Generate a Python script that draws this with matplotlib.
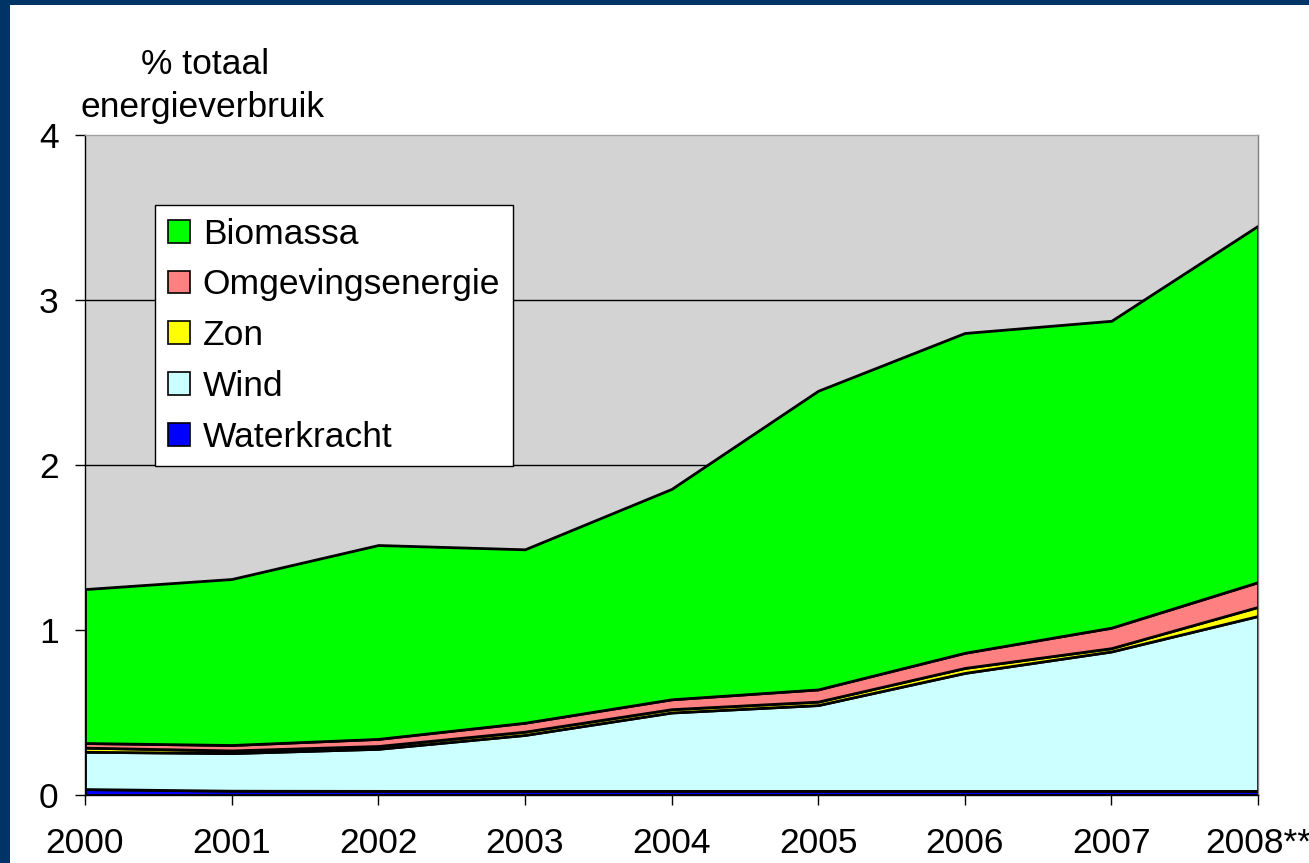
import matplotlib
matplotlib.use("Agg")
import matplotlib.pyplot as plt
from matplotlib.patches import Rectangle, Patch

years = ["2000", "2001", "2002", "2003", "2004", "2005", "2006", "2007", "2008**"]
waterkracht = [0.036, 0.026, 0.025, 0.025, 0.025, 0.025, 0.025, 0.025, 0.025]
wind = [0.226, 0.228, 0.255, 0.339, 0.475, 0.520, 0.715, 0.845, 1.060]
zon = [0.025, 0.016, 0.017, 0.020, 0.020, 0.021, 0.030, 0.020, 0.055]
omgevingsenergie = [0.028, 0.033, 0.043, 0.054, 0.060, 0.074, 0.092, 0.124, 0.150]
biomassa = [0.933, 1.006, 1.175, 1.051, 1.275, 1.810, 1.938, 1.860, 2.160]

labels = ["Waterkracht", "Wind", "Zon", "Omgevingsenergie", "Biomassa"]
colors = ["#0000FF", "#CCFFFF", "#FFFF00", "#FF8080", "#00FF00"]

plt.rcParams['font.family'] = ['Liberation Sans', 'DejaVu Sans']
FS = 25.5
W, H = 1309, 863
fig = plt.figure(figsize=(W / 100, H / 100), dpi=100)
fig.patch.set_facecolor("white")

# navy frame (left & top)
fig.patches.append(Rectangle((0, 0), 10 / W, 1, transform=fig.transFigure,
                             facecolor="#003366", edgecolor="none", zorder=0))
fig.patches.append(Rectangle((0, 1 - 5 / H), 1, 5 / H, transform=fig.transFigure,
                             facecolor="#003366", edgecolor="none", zorder=0))

x0, x1 = 85, 1258
y0, y1 = 795, 135
ax = fig.add_axes([x0 / W, (H - y0) / H, (x1 - x0) / W, (y0 - y1) / H])
ax.set_facecolor("#D3D3D3")

x = list(range(len(years)))
ax.stackplot(x, waterkracht, wind, zon, omgevingsenergie, biomassa,
             colors=colors, edgecolor="black", linewidth=2, zorder=2)

ax.set_xlim(0, len(years) - 1)
ax.set_ylim(0, 4)
ax.set_yticks([0, 1, 2, 3, 4])
ax.set_xticks(x)
ax.set_xticklabels(years)
for yv in [1, 2, 3]:
    ax.axhline(yv, color="black", linewidth=1, zorder=1)

ax.tick_params(axis="both", labelsize=FS, direction="out", length=7,
               width=1, color="black")
ax.tick_params(axis="x", pad=16)
ax.tick_params(axis="y", pad=12)

ax.spines["left"].set_color("black")
ax.spines["bottom"].set_color("black")
ax.spines["top"].set_color("#A0A0A0")
ax.spines["right"].set_color("#808080")
for s in ax.spines.values():
    s.set_linewidth(1)
    s.set_zorder(3)

fig.text(205 / W, (H - 64) / H, "% totaal", ha="center", va="center", fontsize=FS)
fig.text(203 / W, (H - 107) / H, "energieverbruik", ha="center", va="center", fontsize=FS)

handles = [Patch(facecolor=c, edgecolor="black", linewidth=1.2, label=l)
           for c, l in zip(colors, labels)][::-1]
leg = ax.legend(handles=handles, loc="upper left",
                bbox_to_anchor=((155 - x0) / (x1 - x0), (y0 - 205) / (y0 - y1)),
                borderaxespad=0, fontsize=FS, frameon=True, fancybox=False,
                edgecolor="black", framealpha=1, handlelength=0.62,
                handleheight=0.62, handletextpad=0.37, labelspacing=0.5,
                borderpad=0.36)
leg.get_frame().set_linewidth(1)
leg.set_zorder(5)

fig.savefig("out.png", dpi=100)
